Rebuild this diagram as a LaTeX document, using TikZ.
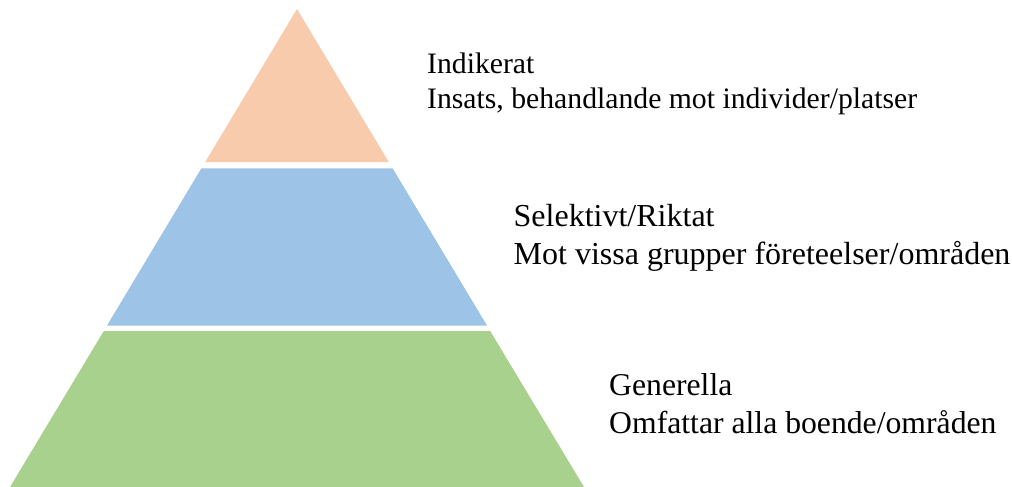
\documentclass[tikz,border=0pt]{standalone}
\usepackage{fontspec}
\setmainfont{Liberation Serif}
\definecolor{topc}{HTML}{F8CBAD}
\definecolor{midc}{HTML}{9DC3E6}
\definecolor{botc}{HTML}{A9D18E}
\begin{document}
\begin{tikzpicture}[x=1pt,y=-1pt,
  lbl/.style={anchor=base west,inner sep=0pt}]
\useasboundingbox (0,0) rectangle (1012,487);
\fill[topc] (297,9) -- (388.8,162) -- (205.2,162) -- cycle;
\fill[midc] (201.4,168.3) -- (392.6,168.3) -- (487,325.5) -- (107,325.5) -- cycle;
\fill[botc] (103.8,331) -- (490.2,331) -- (584,487) -- (10,487) -- cycle;
\begin{scope}[every node/.append style={font=\fontsize{29.7}{35}\selectfont}]
\node[lbl] (t1) at (427,73.3) {Indikerat};
\node[lbl] (t2) at (427,108.5) {Insats, behandlande mot individer/platser};
\end{scope}
\begin{scope}[every node/.append style={font=\fontsize{32}{38}\selectfont}]
\node[lbl] (m1) at (513.5,226.3) {Selektivt/Riktat};
\node[lbl] (m2) at (513.5,264) {Mot vissa grupper företeelser/områden};
\end{scope}
\begin{scope}[every node/.append style={font=\fontsize{31.7}{38}\selectfont}]
\node[lbl] (b1) at (609,395) {Generella};
\node[lbl] (b2) at (609,433.3) {Omfattar alla boende/områden};
\end{scope}
\end{tikzpicture}
\end{document}
